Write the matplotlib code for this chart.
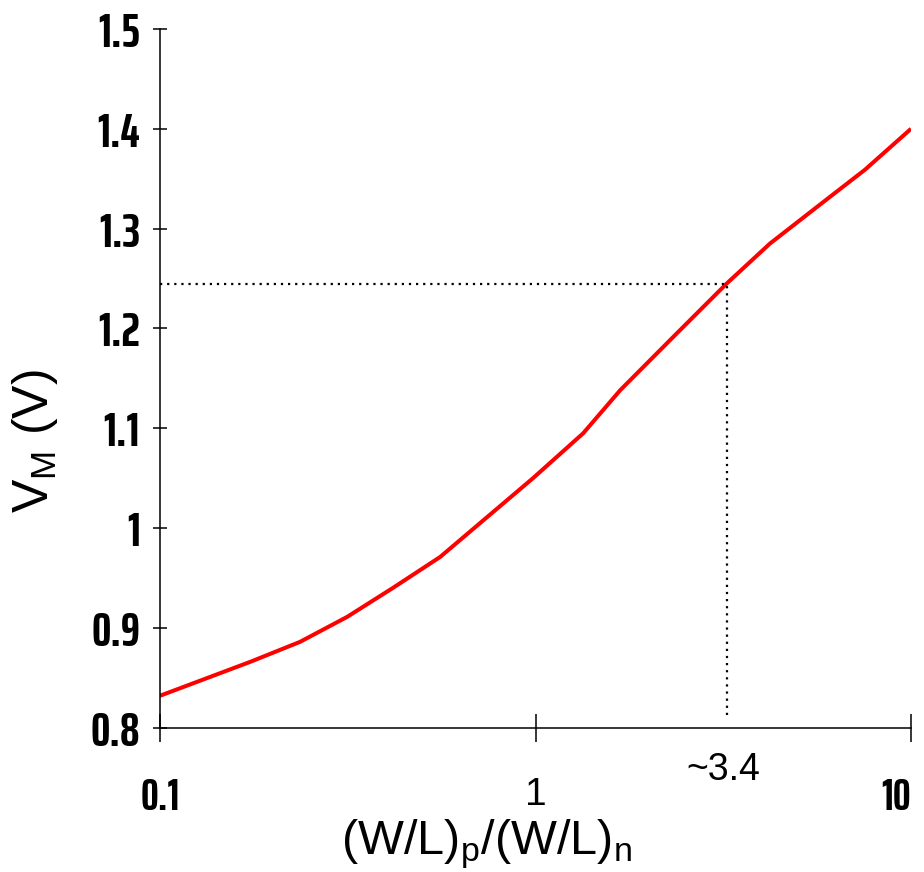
import matplotlib
matplotlib.use("Agg")
import matplotlib.pyplot as plt

NARROW = ['Saira ExtraCondensed', 'Liberation Sans']
REG = ['Liberation Sans', 'DejaVu Sans']

plt.rcParams['mathtext.fontset'] = 'custom'
plt.rcParams['mathtext.rm'] = 'Liberation Sans'
plt.rcParams['mathtext.it'] = 'Liberation Sans'

# ---- data ----
ratio = [0.1, 0.174, 0.236, 0.315, 0.417, 0.557, 0.985, 1.34, 1.68, 2.32, 3.23, 4.21, 5.72, 7.54, 10.0]
vm = [0.832, 0.866, 0.886, 0.911, 0.940, 0.971, 1.050, 1.095, 1.138, 1.191, 1.245, 1.285, 1.324, 1.359, 1.400]
x_mark, y_mark = 3.23, 1.245
yticks = [0.8, 0.9, 1.0, 1.1, 1.2, 1.3, 1.4, 1.5]
ytick_labels = ['0.8', '0.9', '1', '1.1', '1.2', '1.3', '1.4', '1.5']
xticks = [0.1, 1, 10]
xtick_labels = ['0.1', '1', '10']

fig = plt.figure(figsize=(9.24, 8.72), dpi=100)
ax = fig.add_axes([160/924, 1-727.7/872, (911-160)/924, (727.7-29)/872])
ax.plot(ratio, vm, color='#ff0000', lw=2.9, solid_capstyle='butt')
ax.plot([0.1, x_mark], [y_mark, y_mark], color='k', ls=(0, (1, 2.2)), lw=1.6)
ax.plot([x_mark, x_mark], [0.813, y_mark], color='k', ls=(0, (1, 2.2)), lw=1.6)

ax.set_xscale('log')
ax.set_xlim(0.1, 10); ax.set_ylim(0.8, 1.5)
ax.spines[['top', 'right']].set_visible(False)
for s in ('left', 'bottom'):
    ax.spines[s].set_linewidth(1.1)
ax.set_yticks(yticks); ax.set_yticklabels(ytick_labels)
ax.set_xticks(xticks); ax.set_xticklabels(xtick_labels)
ax.minorticks_off()
ax.tick_params(axis='y', direction='inout', length=10.5, width=1.1, pad=9)
ax.tick_params(axis='x', direction='inout', length=19.5, width=1.1, pad=26)
for lab in ax.get_yticklabels():
    lab.set_fontfamily(NARROW); lab.set_fontweight('bold'); lab.set_fontsize(35)
xl = ax.get_xticklabels()
for lab, fam, wt in zip(xl, [NARROW, REG, NARROW], ['bold', 'normal', 'bold']):
    lab.set_fontfamily(fam); lab.set_fontweight(wt); lab.set_fontsize(28 if wt == 'normal' else 32)
xl[2].set_horizontalalignment('right')
xl[2].set_x(10)

fig.text(723/924, 1-770/872, '~3.4', fontsize=27, family=REG, ha='center', va='center')
fig.text(487/924, 1-854/872, r'(W/L)$_\mathregular{p}$/(W/L)$_\mathregular{n}$', fontsize=35,
         family=REG, ha='center', va='baseline')
fig.text(35/924, 1-441/872, r'V$_\mathregular{M}$ (V)', fontsize=36, family=REG,
         rotation=90, ha='center', va='center')
fig.savefig('out.png', dpi=100)
